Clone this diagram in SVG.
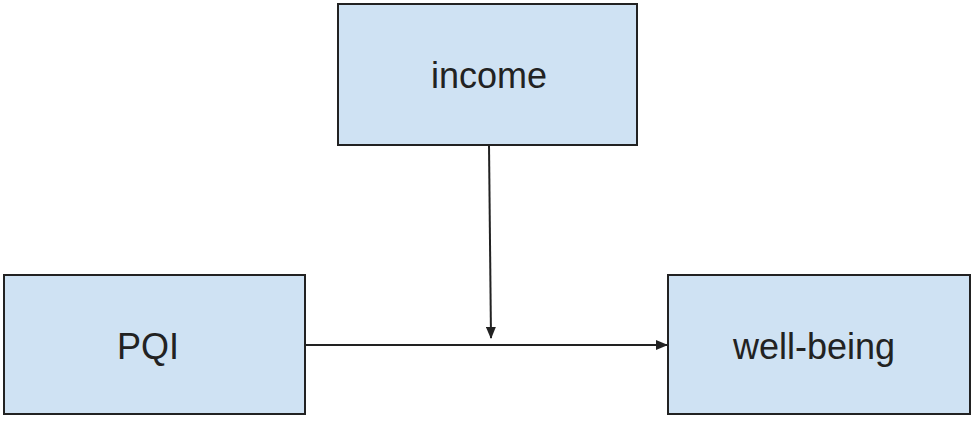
<svg xmlns="http://www.w3.org/2000/svg" width="975" height="421" viewBox="0 0 975 421">
<style>
.box{fill:#cfe2f3;stroke:#222;stroke-width:2}
.lbl{font-family:"Liberation Sans",Arial,sans-serif;font-size:36px;fill:#222;text-anchor:middle}
.edge{stroke:#222;stroke-width:2;fill:none}
</style>
<defs>
<marker id="arr" markerWidth="12" markerHeight="10" refX="11" refY="5" orient="auto" markerUnits="userSpaceOnUse">
<path d="M0,0 L12,5 L0,10 z" fill="#222"/>
</marker>
</defs>
<rect width="975" height="421" fill="#fff"/>
<g id="income">
<rect class="box" x="338" y="4" width="299" height="141"/>
<text class="lbl" x="489" y="88">income</text>
</g>
<g id="pqi">
<rect class="box" x="4" y="275" width="301" height="139"/>
<text class="lbl" x="148" y="359">PQI</text>
</g>
<g id="wellbeing">
<rect class="box" x="668" y="275" width="302" height="139"/>
<text class="lbl" x="814" y="359">well-being</text>
</g>
<g id="connectors">
<line class="edge" x1="489" y1="145" x2="491" y2="338" marker-end="url(#arr)"/>
<line class="edge" x1="305" y1="345" x2="667" y2="345" marker-end="url(#arr)"/>
</g>
</svg>
